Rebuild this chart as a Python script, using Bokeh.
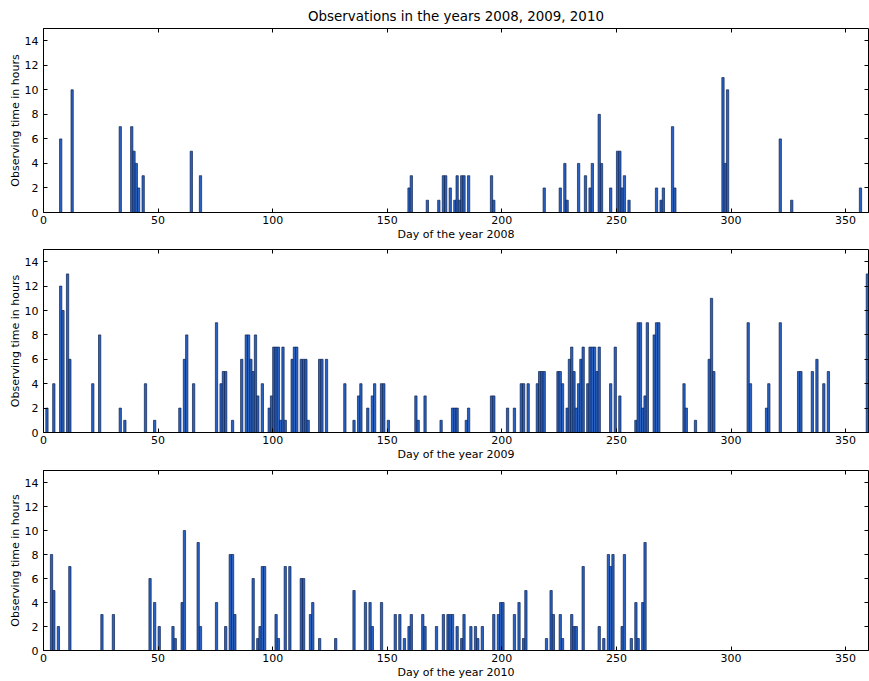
from bokeh.plotting import figure
from bokeh.layouts import column
from bokeh.models import ColumnDataSource, Range1d, LinearAxis, SingleIntervalTicker
from bokeh.transform import dodge
from bokeh.embed import file_html
from bokeh.resources import INLINE

# ---------------- data (day of year, observing hours) ----------------
days_2008 = [7, 12, 33, 38, 39, 40, 41, 43, 64, 68,
             159, 160, 167, 172, 174, 175, 177, 179, 180, 181,
             182, 183, 185, 195, 196, 218, 225, 227, 228, 233,
             236, 238, 239, 242, 243, 247, 250, 251, 252, 253,
             255, 267, 269, 270, 274, 275, 296, 297, 298, 321,
             326, 356]
hours_2008 = [6, 10, 7, 7, 5, 4, 2, 3, 5, 3,
              2, 3, 1, 1, 3, 3, 2, 1, 3, 1,
              3, 3, 3, 3, 1, 2, 2, 4, 1, 4,
              3, 2, 4, 8, 4, 2, 5, 5, 2, 3,
              1, 2, 1, 2, 7, 2, 11, 4, 10, 6,
              1, 2]

days_2009 = [1, 4, 7, 8, 10, 11, 21, 24, 33, 35,
             44, 48, 59, 61, 62, 65, 75, 77, 78, 79,
             82, 86, 88, 89, 90, 91, 92, 93, 95, 98,
             99, 100, 101, 102, 103, 104, 105, 108, 109, 110,
             112, 113, 114, 115, 120, 121, 123, 131, 135, 137,
             138, 141, 143, 144, 147, 148, 150, 162, 163, 166,
             173, 178, 179, 180, 184, 185, 195, 196, 202, 205,
             208, 209, 211, 215, 216, 217, 218, 224, 225, 226,
             228, 229, 230, 231, 232, 233, 234, 235, 237, 238,
             239, 240, 241, 242, 247, 249, 251, 258, 259, 260,
             261, 262, 263, 266, 267, 268, 279, 280, 284, 290,
             291, 292, 307, 308, 315, 316, 321, 329, 330, 335,
             337, 340, 342, 359]
hours_2009 = [2, 4, 12, 10, 13, 6, 4, 8, 2, 1,
              4, 1, 2, 6, 8, 4, 9, 4, 5, 5,
              1, 6, 8, 8, 6, 5, 8, 3, 4, 2,
              3, 7, 7, 7, 1, 7, 1, 6, 7, 7,
              6, 6, 6, 1, 6, 6, 6, 4, 1, 3,
              4, 2, 3, 4, 4, 4, 1, 3, 1, 3,
              1, 2, 2, 2, 1, 2, 3, 3, 2, 2,
              4, 4, 4, 4, 5, 5, 5, 5, 5, 4,
              2, 6, 7, 5, 2, 4, 6, 7, 4, 7,
              7, 7, 5, 7, 4, 7, 3, 1, 9, 9,
              2, 3, 9, 8, 9, 9, 4, 2, 1, 6,
              11, 5, 9, 4, 2, 4, 9, 5, 5, 5,
              6, 4, 5, 13]

days_2010 = [3, 4, 6, 11, 25, 30, 46, 48, 50, 56,
             57, 60, 61, 67, 68, 75, 79, 81, 82, 83,
             91, 93, 94, 95, 96, 101, 102, 105, 107, 112,
             113, 116, 117, 120, 127, 135, 140, 142, 143, 147,
             153, 155, 157, 159, 160, 165, 166, 171, 174, 176,
             177, 178, 180, 182, 183, 186, 188, 189, 191, 196,
             198, 199, 200, 205, 207, 209, 210, 219, 221, 222,
             225, 226, 230, 231, 232, 235, 242, 244, 246, 247,
             248, 252, 253, 256, 258, 259, 261, 262]
hours_2010 = [8, 5, 2, 7, 3, 3, 6, 4, 2, 2,
              1, 4, 10, 9, 2, 4, 2, 8, 8, 3,
              6, 1, 2, 7, 7, 3, 1, 7, 7, 6,
              6, 3, 4, 1, 1, 5, 4, 4, 2, 4,
              3, 3, 1, 2, 3, 3, 2, 2, 3, 3,
              3, 3, 2, 1, 3, 2, 2, 1, 2, 3,
              3, 4, 4, 3, 4, 1, 5, 1, 5, 3,
              3, 1, 3, 2, 2, 7, 2, 1, 8, 7,
              8, 2, 8, 1, 4, 1, 4, 9]

years = ["2008", "2009", "2010"]
title_text = "Observations in the years 2008, 2009, 2010"
y_label = "Observing time in hours"
x_label_prefix = "Day of the year "

FONT = "DejaVu Sans"
BAR_FILL = "#2a62c4"
BAR_LINE = "#10244f"


def make_panel(days, hours, year, height, top, bottom, title=None):
    p = figure(width=869, height=height,
               x_range=Range1d(0, 360), y_range=Range1d(0, 15),
               output_backend="svg", toolbar_location=None,
               title=title,
               min_border_left=43, min_border_right=1,
               min_border_top=top, min_border_bottom=bottom,
               background_fill_color="white", border_fill_color="white")
    src = ColumnDataSource(dict(day=days, hours=hours))
    p.vbar(x=dodge("day", 0.5), width=1, top="hours", bottom=0, source=src,
           fill_color=BAR_FILL, line_color=BAR_LINE, line_width=0.7)

    p.xgrid.visible = False
    p.ygrid.visible = False
    p.outline_line_color = "black"
    p.outline_line_width = 1

    for ax in (p.xaxis[0], p.yaxis[0]):
        ax.major_tick_in = 4
        ax.major_tick_out = 0
        ax.minor_tick_line_color = None
        ax.axis_line_color = "black"
        ax.major_tick_line_color = "black"
        ax.major_label_text_font = FONT
        ax.major_label_text_font_size = "11px"
        ax.major_label_text_color = "black"
        ax.axis_label_text_font = FONT
        ax.axis_label_text_font_size = "11px"
        ax.axis_label_text_font_style = "normal"
        ax.axis_label_text_color = "black"

    p.xaxis[0].ticker = SingleIntervalTicker(interval=50, num_minor_ticks=0)
    p.yaxis[0].ticker = SingleIntervalTicker(interval=2, num_minor_ticks=0)
    p.xaxis[0].axis_label = x_label_prefix + year
    p.yaxis[0].axis_label = y_label
    p.xaxis[0].major_label_standoff = 3
    p.xaxis[0].axis_label_standoff = 1
    p.yaxis[0].major_label_standoff = 5
    p.yaxis[0].axis_label_standoff = 0

    # inward ticks on the top and right spines, labels not painted
    top_ax = LinearAxis(ticker=SingleIntervalTicker(interval=50, num_minor_ticks=0),
                        major_tick_in=4, major_tick_out=0,
                        minor_tick_line_color=None, axis_line_color=None,
                        major_label_text_color=None,
                        major_label_text_font_size="1px", major_label_standoff=0)
    p.add_layout(top_ax, "above")
    right_ax = LinearAxis(ticker=SingleIntervalTicker(interval=2, num_minor_ticks=0),
                          major_tick_in=4, major_tick_out=0,
                          minor_tick_line_color=None, axis_line_color=None,
                          major_label_text_color=None,
                          major_label_text_font_size="1px", major_label_standoff=0)
    p.add_layout(right_ax, "right")

    if title is not None:
        p.title.text_font = FONT
        p.title.text_font_size = "13.4px"
        p.title.text_font_style = "normal"
        p.title.align = "center"
        p.title.text_color = "black"
    return p


p1 = make_panel(days_2008, hours_2008, years[0], 245, 28, 33, title=title_text)
p2 = make_panel(days_2009, hours_2009, years[1], 220, 4, 33)
p3 = make_panel(days_2010, hours_2010, years[2], 216, 5, 29)

layout = column(p1, p2, p3, spacing=0)

with open("out.html", "w") as f:
    f.write(file_html(layout, INLINE))
